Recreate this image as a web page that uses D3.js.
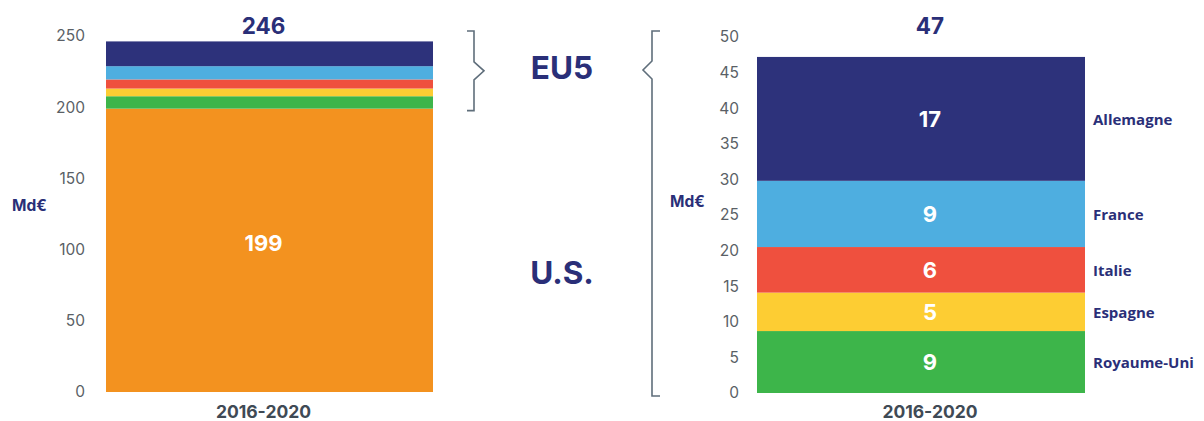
<!DOCTYPE html>
<html>
<head>
<meta charset="utf-8">
<script src="https://cdn.jsdelivr.net/npm/d3@7"></script>
<style>
  html, body { margin: 0; padding: 0; background: #fff; }
  svg { display: block; }
  .tick text { font-family: Inter, "Open Sans", sans-serif; font-size: 15.5px; fill: #5a5f66; }
</style>
</head>
<body>
<svg id="chart" width="1204" height="421"></svg>
<script>
// Investment totals, 2016-2020 (billions of euros)
const period = ["2016-2020"];
const usLabel = "U.S.";
const usValues = [199];
const countries = ["Royaume-Uni", "Espagne", "Italie", "France", "Allemagne"];
const eu5Values = [8.7, 5.4, 6.4, 9.3, 17.4];
const leftTicks = [0, 50, 100, 150, 200, 250];
const rightTicks = [0, 5, 10, 15, 20, 25, 30, 35, 40, 45, 50];
const unitLabel = "Md€";
const groupLabels = ["EU5", "U.S."];

const colorOf = {
  "U.S.": "#f3921f",
  "Royaume-Uni": "#3db54a",
  "Espagne": "#fdcd33",
  "Italie": "#ef503e",
  "France": "#4eaee0",
  "Allemagne": "#2d327b"
};
const navy = "#2a2f78";
const fontMain = "Inter, 'Open Sans', sans-serif";

const svg = d3.select("#chart");

// Rows for stacking
const row = { period: period[0], [usLabel]: usValues[0] };
countries.forEach((c, i) => { row[c] = eu5Values[i]; });
const eu5Total = d3.sum(eu5Values);
const grandTotal = usValues[0] + eu5Total;
const fmt = d3.format(".0f");

function drawAxis(g, y, ticks, x) {
  const ax = g.append("g")
    .attr("transform", `translate(${x},0)`)
    .call(d3.axisLeft(y).tickValues(ticks).tickSize(0).tickPadding(0));
  ax.select(".domain").remove();
  return ax;
}

// ---------- Left panel: U.S. + EU5 ----------
const yL = d3.scaleLinear().domain([0, 250]).range([392, 36]);
const xL = d3.scaleBand().domain(period).range([106, 433]).padding(0);
const leftKeys = [usLabel, ...countries];
const leftStack = d3.stack().keys(leftKeys)([row]);
const labelXL = xL(period[0]) + xL.bandwidth() / 2 - 6;

const gL = svg.append("g");
drawAxis(gL, yL, leftTicks, 85);

gL.selectAll("rect.seg")
  .data(leftStack)
  .join("rect")
  .attr("class", "seg")
  .attr("x", xL(period[0]))
  .attr("width", xL.bandwidth())
  .attr("y", d => yL(d[0][1]))
  .attr("height", d => yL(d[0][0]) - yL(d[0][1]))
  .attr("fill", d => colorOf[d.key]);

// value inside the U.S. segment
const usSeg = leftStack[0][0];
gL.append("text")
  .attr("x", labelXL)
  .attr("y", (yL(usSeg[0]) + yL(usSeg[1])) / 2 - 7)
  .attr("text-anchor", "middle")
  .attr("dominant-baseline", "central")
  .attr("font-family", fontMain).attr("font-weight", 700).attr("font-size", 22)
  .attr("fill", "#fff")
  .text(fmt(usValues[0]));

gL.append("text")
  .attr("x", labelXL)
  .attr("y", 25)
  .attr("text-anchor", "middle").attr("dominant-baseline", "central")
  .attr("font-family", fontMain).attr("font-weight", 700).attr("font-size", 22.5)
  .attr("fill", navy)
  .text(fmt(grandTotal));

gL.append("text")
  .attr("x", labelXL)
  .attr("y", 411)
  .attr("text-anchor", "middle").attr("dominant-baseline", "central")
  .attr("font-family", fontMain).attr("font-weight", 700).attr("font-size", 17.5)
  .attr("fill", "#3f4a55")
  .text(period[0]);

gL.append("text")
  .attr("x", 12).attr("y", 205)
  .attr("dominant-baseline", "central")
  .attr("font-family", fontMain).attr("font-weight", 700).attr("font-size", 15.5)
  .attr("fill", navy)
  .text(unitLabel);

// ---------- Right panel: EU5 detail ----------
const yR = d3.scaleLinear().domain([0, 50]).range([393, 37]);
const xR = d3.scaleBand().domain(period).range([757, 1085]).padding(0);
const rightStack = d3.stack().keys(countries)([row]);
const labelXR = xR(period[0]) + xR.bandwidth() / 2 + 9;

const gR = svg.append("g");
drawAxis(gR, yR, rightTicks, 739);

gR.selectAll("rect.seg")
  .data(rightStack)
  .join("rect")
  .attr("class", "seg")
  .attr("x", xR(period[0]))
  .attr("width", xR.bandwidth())
  .attr("y", d => yR(d[0][1]))
  .attr("height", d => yR(d[0][0]) - yR(d[0][1]))
  .attr("fill", d => colorOf[d.key]);

gR.selectAll("text.val")
  .data(rightStack)
  .join("text")
  .attr("class", "val")
  .attr("x", labelXR)
  .attr("y", d => (yR(d[0][0]) + yR(d[0][1])) / 2)
  .attr("text-anchor", "middle").attr("dominant-baseline", "central")
  .attr("font-family", fontMain).attr("font-weight", 700).attr("font-size", 22)
  .attr("fill", "#fff")
  .text(d => fmt(d[0][1] - d[0][0]));

gR.selectAll("text.country")
  .data(rightStack)
  .join("text")
  .attr("class", "country")
  .attr("x", 1093)
  .attr("y", d => (yR(d[0][0]) + yR(d[0][1])) / 2)
  .attr("dominant-baseline", "central")
  .attr("font-family", "'Open Sans', 'Noto Sans', sans-serif").attr("font-weight", 700).attr("font-size", 15)
  .attr("fill", navy)
  .text(d => d.key);

gR.append("text")
  .attr("x", labelXR)
  .attr("y", 25)
  .attr("text-anchor", "middle").attr("dominant-baseline", "central")
  .attr("font-family", fontMain).attr("font-weight", 700).attr("font-size", 22.5)
  .attr("fill", navy)
  .text(fmt(eu5Total));

gR.append("text")
  .attr("x", labelXR)
  .attr("y", 411)
  .attr("text-anchor", "middle").attr("dominant-baseline", "central")
  .attr("font-family", fontMain).attr("font-weight", 700).attr("font-size", 17.5)
  .attr("fill", "#3f4a55")
  .text(period[0]);

gR.append("text")
  .attr("x", 670).attr("y", 201)
  .attr("dominant-baseline", "central")
  .attr("font-family", fontMain).attr("font-weight", 700).attr("font-size", 15.5)
  .attr("fill", navy)
  .text(unitLabel);

// ---------- Braces linking the EU5 slice to its detail ----------
const braceColor = "#5f6e7b";
// closing brace next to the EU5 part of the left bar
{
  const top = yL(250) - 5, bot = yL(usValues[0]) + 2, mid = (top + bot) / 2;
  const x0 = 467, x1 = 474, tip = 484;
  svg.append("path")
    .attr("d", `M${x0},${top} H${x1} V${mid - 9} L${tip},${mid} L${x1},${mid + 9} V${bot} H${x0}`)
    .attr("fill", "none").attr("stroke", braceColor).attr("stroke-width", 1.6);
}
// opening brace in front of the right panel
{
  const top = yR(50) - 6, bot = yR(0) + 3, mid = top + 39;
  const x0 = 660, x1 = 652, tip = 643;
  svg.append("path")
    .attr("d", `M${x0},${top} H${x1} V${mid - 9} L${tip},${mid} L${x1},${mid + 9} V${bot} H${x0}`)
    .attr("fill", "none").attr("stroke", braceColor).attr("stroke-width", 1.6);
}

svg.selectAll("text.group")
  .data(groupLabels)
  .join("text")
  .attr("class", "group")
  .attr("x", 562)
  .attr("y", (d, i) => i === 0 ? 67 : 272)
  .attr("text-anchor", "middle").attr("dominant-baseline", "central")
  .attr("font-family", fontMain).attr("font-weight", 700).attr("font-size", 31.5)
  .attr("fill", navy)
  .text(d => d);
</script>
</body>
</html>
